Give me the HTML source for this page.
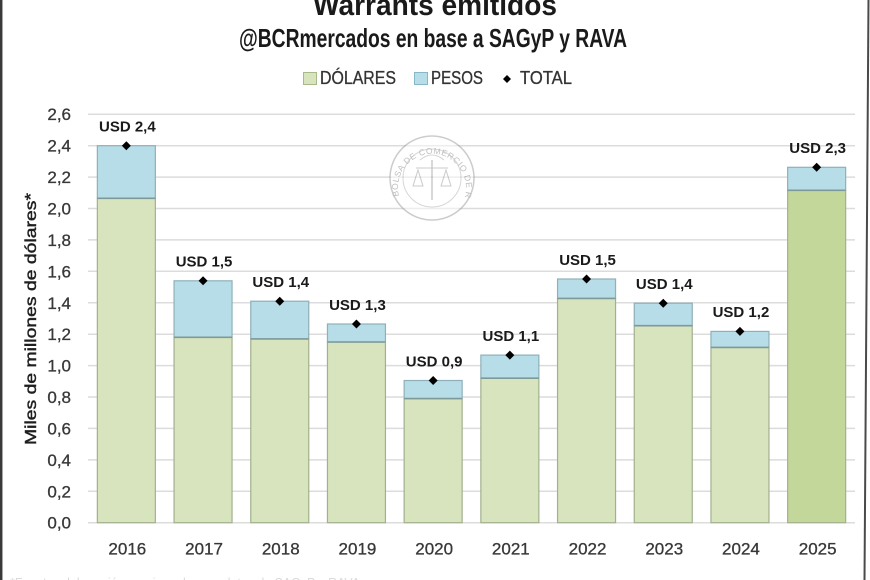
<!DOCTYPE html>
<html>
<head>
<meta charset="utf-8">
<style>
html,body{margin:0;padding:0;background:#fff;}
svg{display:block;}
text{font-family:"Liberation Sans",sans-serif;}
</style>
</head>
<body>
<svg width="870" height="580" viewBox="0 0 870 580" xmlns="http://www.w3.org/2000/svg">
<rect x="0" y="0" width="870" height="580" fill="#ffffff"/>
<!-- borders -->
<line x1="1.2" y1="0" x2="1.2" y2="580" stroke="#3a3a3a" stroke-width="2.5"/>
<line x1="868.5" y1="0" x2="864.5" y2="580" stroke="#4a4a4a" stroke-width="2"/>

<!-- title -->
<text x="435" y="15" font-size="30" font-weight="bold" fill="#1a1a1a" text-anchor="middle" textLength="244" lengthAdjust="spacingAndGlyphs">Warrants emitidos</text>
<text x="433" y="47" font-size="26" font-weight="bold" fill="#1a1a1a" text-anchor="middle" textLength="388" lengthAdjust="spacingAndGlyphs">@BCRmercados en base a SAGyP y RAVA</text>

<!-- legend -->
<rect x="303.5" y="72.5" width="13" height="12" fill="#d7e4bd" stroke="#a8b98a" stroke-width="1"/>
<text x="320" y="84" font-size="18" fill="#333" stroke="#333" stroke-width="0.3" textLength="76" lengthAdjust="spacingAndGlyphs">DÓLARES</text>
<rect x="414.5" y="72.5" width="13" height="12" fill="#b7dde8" stroke="#86b8c8" stroke-width="1"/>
<text x="431" y="84" font-size="18" fill="#333" stroke="#333" stroke-width="0.3" textLength="52" lengthAdjust="spacingAndGlyphs">PESOS</text>
<polygon points="507,75 511,79 507,83 503,79" fill="#000"/>
<text x="520" y="84" font-size="18" fill="#333" stroke="#333" stroke-width="0.3" textLength="52" lengthAdjust="spacingAndGlyphs">TOTAL</text>

<!-- gridlines -->
<g stroke="#dcdcdc" stroke-width="1.5">
<line x1="88" y1="114.2" x2="855" y2="114.2"/>
<line x1="88" y1="145.7" x2="855" y2="145.7"/>
<line x1="88" y1="177.1" x2="855" y2="177.1"/>
<line x1="88" y1="208.5" x2="855" y2="208.5"/>
<line x1="88" y1="239.9" x2="855" y2="239.9"/>
<line x1="88" y1="271.3" x2="855" y2="271.3"/>
<line x1="88" y1="302.8" x2="855" y2="302.8"/>
<line x1="88" y1="334.2" x2="855" y2="334.2"/>
<line x1="88" y1="365.6" x2="855" y2="365.6"/>
<line x1="88" y1="397.0" x2="855" y2="397.0"/>
<line x1="88" y1="428.4" x2="855" y2="428.4"/>
<line x1="88" y1="459.9" x2="855" y2="459.9"/>
<line x1="88" y1="491.3" x2="855" y2="491.3"/>
<line x1="88" y1="522.7" x2="855" y2="522.7"/>
</g>

<!-- watermark seal -->
<g opacity="0.5">
<circle cx="432" cy="178" r="42" fill="#fff" stroke="#9a9a9a" stroke-width="1.5"/>
<circle cx="432" cy="178" r="29" fill="none" stroke="#b0b0b0" stroke-width="1"/>
<defs><path id="seal" d="M 399 196 A 34 34 0 1 1 465 196"/></defs>
<text font-size="8.5" fill="#808080" letter-spacing="0.5"><textPath href="#seal">BOLSA DE COMERCIO DE ROSARIO</textPath></text>
<line x1="432" y1="160" x2="432" y2="200" stroke="#999" stroke-width="1.5"/>
<line x1="416" y1="168" x2="448" y2="168" stroke="#999" stroke-width="1"/>
<polygon points="418,170 413,186 423,186" fill="none" stroke="#999" stroke-width="1"/>
<polygon points="446,170 441,186 451,186" fill="none" stroke="#999" stroke-width="1"/>
<path d="M420 160 Q432 150 444 160" fill="none" stroke="#aaa" stroke-width="1"/>
</g>

<!-- y tick labels -->
<g font-size="17" fill="#383838" stroke="#383838" stroke-width="0.3" text-anchor="end">
<text x="71" y="120.2">2,6</text>
<text x="71" y="151.7">2,4</text>
<text x="71" y="183.1">2,2</text>
<text x="71" y="214.5">2,0</text>
<text x="71" y="245.9">1,8</text>
<text x="71" y="277.3">1,6</text>
<text x="71" y="308.8">1,4</text>
<text x="71" y="340.2">1,2</text>
<text x="71" y="371.6">1,0</text>
<text x="71" y="403.0">0,8</text>
<text x="71" y="434.4">0,6</text>
<text x="71" y="465.9">0,4</text>
<text x="71" y="497.3">0,2</text>
<text x="71" y="528.7">0,0</text>
</g>

<!-- y axis title -->
<text transform="translate(36,319) rotate(-90)" font-size="16" fill="#1f1f1f" stroke="#1f1f1f" stroke-width="0.45" text-anchor="middle" textLength="252" lengthAdjust="spacingAndGlyphs">Miles de millones de dólares*</text>

<!-- bars: dollars -->
<g stroke="#a3b08e" stroke-width="1.2">
<rect x="97.35" y="198.3" width="58" height="324.4" fill="#d7e4bd"/>
<rect x="174.05" y="337.3" width="58" height="185.4" fill="#d7e4bd"/>
<rect x="250.75" y="338.9" width="58" height="183.8" fill="#d7e4bd"/>
<rect x="327.45" y="342.0" width="58" height="180.7" fill="#d7e4bd"/>
<rect x="404.15" y="398.6" width="58" height="124.1" fill="#d7e4bd"/>
<rect x="480.85" y="378.2" width="58" height="144.5" fill="#d7e4bd"/>
<rect x="557.55" y="298.4" width="58" height="224.3" fill="#d7e4bd"/>
<rect x="634.25" y="325.7" width="58" height="197.0" fill="#d7e4bd"/>
<rect x="710.95" y="347.4" width="58" height="175.3" fill="#d7e4bd"/>
<rect x="787.65" y="190.3" width="58" height="332.4" fill="#c4d79b"/>
</g>
<!-- bars: pesos -->
<g stroke="#8fb0b8" stroke-width="1.2" fill="#b7dde8">
<rect x="97.35" y="145.7" width="58" height="52.6"/>
<rect x="174.05" y="280.8" width="58" height="56.5"/>
<rect x="250.75" y="301.2" width="58" height="37.7"/>
<rect x="327.45" y="324.0" width="58" height="18.0"/>
<rect x="404.15" y="380.5" width="58" height="18.1"/>
<rect x="480.85" y="355.1" width="58" height="23.1"/>
<rect x="557.55" y="279.0" width="58" height="19.4"/>
<rect x="634.25" y="303.2" width="58" height="22.5"/>
<rect x="710.95" y="331.4" width="58" height="16.0"/>
<rect x="787.65" y="167.3" width="58" height="23.0"/>
</g>
<!-- dividers -->
<g stroke="#7e9a98" stroke-width="1.6">
<line x1="97.35" y1="198.3" x2="155.35" y2="198.3"/>
<line x1="174.05" y1="337.3" x2="232.05" y2="337.3"/>
<line x1="250.75" y1="338.9" x2="308.75" y2="338.9"/>
<line x1="327.45" y1="342.0" x2="385.45" y2="342.0"/>
<line x1="404.15" y1="398.6" x2="462.15" y2="398.6"/>
<line x1="480.85" y1="378.2" x2="538.85" y2="378.2"/>
<line x1="557.55" y1="298.4" x2="615.55" y2="298.4"/>
<line x1="634.25" y1="325.7" x2="692.25" y2="325.7"/>
<line x1="710.95" y1="347.4" x2="768.95" y2="347.4"/>
<line x1="787.65" y1="190.3" x2="845.65" y2="190.3"/>
</g>

<!-- total markers -->
<g fill="#000">
<polygon points="126.35,141.2 130.85,145.7 126.35,150.2 121.85,145.7"/>
<polygon points="203.05,276.3 207.55,280.8 203.05,285.3 198.55,280.8"/>
<polygon points="279.75,296.7 284.25,301.2 279.75,305.7 275.25,301.2"/>
<polygon points="356.45,319.5 360.95,324.0 356.45,328.5 351.95,324.0"/>
<polygon points="433.15,376.0 437.65,380.5 433.15,385.0 428.65,380.5"/>
<polygon points="509.85,350.6 514.35,355.1 509.85,359.6 505.35,355.1"/>
<polygon points="586.55,274.5 591.05,279.0 586.55,283.5 582.05,279.0"/>
<polygon points="663.25,298.7 667.75,303.2 663.25,307.7 658.75,303.2"/>
<polygon points="739.95,326.9 744.45,331.4 739.95,335.9 735.45,331.4"/>
<polygon points="816.65,162.8 821.15,167.3 816.65,171.8 812.15,167.3"/>
</g>

<!-- total labels -->
<g font-size="15" font-weight="bold" fill="#1a1a1a" text-anchor="middle">
<text x="127.35" y="131.5">USD 2,4</text>
<text x="204.05" y="266.6">USD 1,5</text>
<text x="280.75" y="287.0">USD 1,4</text>
<text x="357.45" y="309.8">USD 1,3</text>
<text x="434.15" y="366.3">USD 0,9</text>
<text x="510.85" y="340.9">USD 1,1</text>
<text x="587.55" y="264.8">USD 1,5</text>
<text x="664.25" y="289.0">USD 1,4</text>
<text x="740.95" y="317.2">USD 1,2</text>
<text x="817.65" y="153.1">USD 2,3</text>
</g>

<!-- x labels -->
<g font-size="17" fill="#383838" stroke="#383838" stroke-width="0.3" text-anchor="middle">
<text x="127.35" y="554.5">2016</text>
<text x="204.05" y="554.5">2017</text>
<text x="280.75" y="554.5">2018</text>
<text x="357.45" y="554.5">2019</text>
<text x="434.15" y="554.5">2020</text>
<text x="510.85" y="554.5">2021</text>
<text x="587.55" y="554.5">2022</text>
<text x="664.25" y="554.5">2023</text>
<text x="740.95" y="554.5">2024</text>
<text x="817.65" y="554.5">2025</text>
</g>

<!-- faint cut-off footnote -->
<text x="10" y="587" font-size="13" fill="#dadada" textLength="350" lengthAdjust="spacingAndGlyphs">*Fuente: elaboración propia en base a datos de SAGyP y RAVA</text>
</svg>
</body>
</html>
